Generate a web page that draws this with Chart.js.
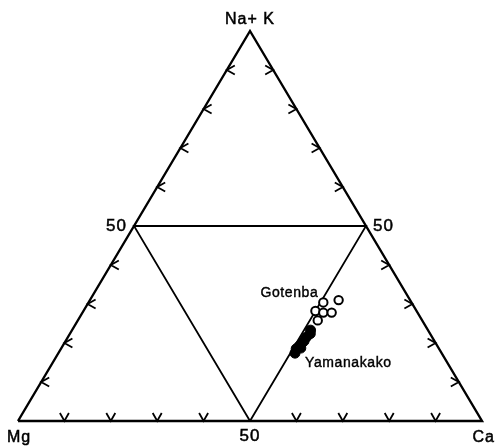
<!DOCTYPE html>
<html>
<head>
<meta charset="utf-8">
<script src="https://cdn.jsdelivr.net/npm/chart.js@4.4.1/dist/chart.umd.min.js"></script>
<style>
  html, body { margin: 0; padding: 0; background: #fff; }
  #triangulo { display: block; }
</style>
</head>
<body>
<canvas id="triangulo" width="495" height="447"></canvas>
<script>
// composiciones (%): Ca, Mg, Na+K
const gotenbaCa  = [53.6, 50.6, 50.0, 51.9, 53.7, 51.7];
const gotenbaMg  = [15.4, 19.0, 21.8, 20.3, 18.5, 22.5];
const gotenbaNaK = [31.0, 30.4, 28.2, 27.8, 27.8, 25.8];

const yamanakakoCa  = [51.4, 51.8, 51.4, 51.4, 51.2, 51.0, 50.7, 51.6, 51.0];
const yamanakakoMg  = [25.3, 25.8, 27.1, 28.1, 28.8, 29.8, 30.8, 29.7, 31.6];
const yamanakakoNaK = [23.3, 22.4, 21.5, 20.5, 20.0, 19.2, 18.5, 18.7, 17.4];

// vertices y puntos medios del triangulo (Ca, Na+K)
const vertices = [[0, 0], [100, 0], [0, 100], [0, 0]];
const medios = [[50, 0], [0, 50], [50, 50], [50, 0]];
const marcas = [10, 20, 30, 40, 60, 70, 80, 90];
const etiquetaMedio = "50";

const fuente = "'Liberation Sans', Arial, sans-serif";

// Ca y Na+K -> coordenadas cartesianas del triangulo
const aXY = (ca, nak) => ({ x: ca + nak / 2, y: nak });

const puntosGotenba = gotenbaCa.map((ca, i) => aXY(ca, gotenbaNaK[i]));
const puntosYamanakako = yamanakakoCa.map((ca, i) => aXY(ca, yamanakakoNaK[i]));

const linea = (pts, ancho, orden) => ({
    data: pts.map(p => aXY(p[0], p[1])),
    showLine: true,
    borderColor: "#000",
    borderWidth: ancho,
    pointRadius: 0,
    clip: false,
    order: orden
});

const dibujarChevron = (ctx, x, y, dx1, dy1, dx2, dy2) => {
    ctx.beginPath();
    ctx.moveTo(x + dx1, y + dy1);
    ctx.lineTo(x, y);
    ctx.lineTo(x + dx2, y + dy2);
    ctx.stroke();
};

// texto con un trazo fino para que quede algo mas grueso
const texto = (ctx, t, x, y) => {
    ctx.fillText(t, x, y);
    ctx.strokeText(t, x, y);
};

const decoracion = {
    id: "decoracion",
    afterDatasetsDraw(chart) {
        const { ctx, scales } = chart;
        const px = (ca, nak) => {
            const p = aXY(ca, nak);
            return [scales.x.getPixelForValue(p.x), scales.y.getPixelForValue(p.y)];
        };
        ctx.save();
        ctx.strokeStyle = "#000";
        ctx.lineWidth = 1.8;
        ctx.lineJoin = "miter";
        for (const m of marcas) {
            // lado Mg - Na+K
            let [x, y] = px(0, m);
            dibujarChevron(ctx, x, y, 8, -4.5, 8, 4.5);
            // lado Ca - Na+K
            [x, y] = px(100 - m, m);
            dibujarChevron(ctx, x, y, -8, -4.5, -8, 4.5);
            // base Mg - Ca
            [x, y] = px(m, 0);
            dibujarChevron(ctx, x, y, -4.5, -8, 4.5, -8);
        }

        ctx.fillStyle = "#000";
        ctx.lineWidth = 0.5;
        ctx.letterSpacing = "1px";
        ctx.font = "16px " + fuente;
        ctx.textBaseline = "alphabetic";

        let [x, y] = px(0, 100);
        ctx.textAlign = "center";
        texto(ctx, "Na+ K", x, y - 7);

        [x, y] = px(0, 0);
        ctx.textAlign = "left";
        texto(ctx, "Mg", x - 11, y + 21);

        [x, y] = px(100, 0);
        ctx.textAlign = "right";
        texto(ctx, "Ca", x + 13, y + 21);

        ctx.font = "17px " + fuente;
        [x, y] = px(50, 0);
        ctx.textAlign = "center";
        texto(ctx, etiquetaMedio, x, y + 20);

        ctx.textBaseline = "middle";
        [x, y] = px(0, 50);
        ctx.textAlign = "right";
        texto(ctx, etiquetaMedio, x - 7, y);

        [x, y] = px(50, 50);
        ctx.textAlign = "left";
        texto(ctx, etiquetaMedio, x + 7, y);

        ctx.font = "14px " + fuente;
        ctx.letterSpacing = "0.6px";
        ctx.lineWidth = 0.4;
        ctx.textBaseline = "alphabetic";
        [x, y] = px(gotenbaCa[1], gotenbaNaK[1]);
        ctx.textAlign = "right";
        texto(ctx, "Gotenba", x - 5, y - 5);

        [x, y] = px(yamanakakoCa[8], yamanakakoNaK[8]);
        ctx.textAlign = "left";
        texto(ctx, "Yamanakako", x + 10, y + 14);
        ctx.restore();
    }
};

new Chart(document.getElementById("triangulo"), {
    type: "scatter",
    data: {
        datasets: [
            {
                label: "Yamanakako",
                data: puntosYamanakako,
                pointRadius: 5,
                pointBackgroundColor: "#000",
                pointBorderColor: "#000",
                pointBorderWidth: 1,
                clip: false,
                order: 1
            },
            {
                label: "Gotenba",
                data: puntosGotenba,
                pointRadius: 4.2,
                pointBackgroundColor: "#fff",
                pointBorderColor: "#000",
                pointBorderWidth: 2,
                clip: false,
                order: 2
            },
            linea(medios, 1.8, 3),
            linea(vertices, 2.4, 4)
        ]
    },
    options: {
        responsive: false,
        devicePixelRatio: 1,
        animation: false,
        layout: { padding: { left: 18, right: 13, top: 31, bottom: 26 } },
        scales: {
            x: { type: "linear", min: 0, max: 100, display: false },
            y: { type: "linear", min: 0, max: 100, display: false }
        },
        plugins: {
            legend: { display: false },
            tooltip: { enabled: false }
        }
    },
    plugins: [decoracion]
});
</script>
</body>
</html>
